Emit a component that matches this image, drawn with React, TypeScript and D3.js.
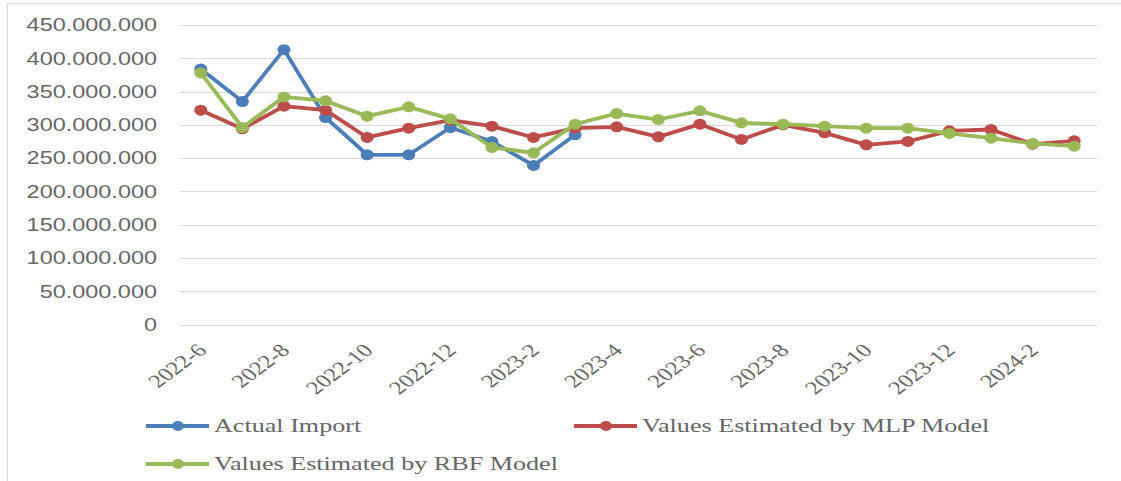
import React, { useEffect, useRef } from 'react';
import * as d3 from 'd3';

// months on the category axis
const months = [
  '2022-6', '2022-7', '2022-8', '2022-9', '2022-10', '2022-11', '2022-12',
  '2023-1', '2023-2', '2023-3', '2023-4', '2023-5', '2023-6', '2023-7',
  '2023-8', '2023-9', '2023-10', '2023-11', '2023-12', '2024-1', '2024-2', '2024-3',
];
// values in millions
const actualImport = [384, 335, 413, 311, 255, 255, 296, 275, 239, 285];
const mlpValues = [322, 294, 328, 322, 281, 295, 307, 298, 281, 295, 297, 282, 301, 278, 300, 288, 270, 275, 291, 293, 271, 276];
const rbfValues = [378, 296, 342, 336, 313, 327, 309, 266, 258, 301, 317, 308, 321, 303, 301, 298, 295, 295, 287, 280, 272, 268];
const yTicks = [0, 50, 100, 150, 200, 250, 300, 350, 400, 450];
const seriesNames = ['Actual Import', 'Values Estimated by MLP Model', 'Values Estimated by RBF Model'];
const UNIT = 1e6;

export default function App() {
  const ref = useRef<SVGSVGElement>(null);
  /* SIZE */
  const WIDTH = 1121;
  const HEIGHT = 481;
  const SX = 1.34; // the picture is stretched sideways
  /* COLOR */
  const COLORS = ['#4a7ebb', '#be4b48', '#98b954'];
  const GRID = '#d9d9d9';
  const TEXT = '#656565';

  function draw() {
    const svg = d3.select(ref.current);
    svg.selectAll('*').remove();

    const x = d3.scaleBand<string>().domain(months).range([180, 1095]);
    const y = d3.scaleLinear().domain([0, 450 * UNIT]).range([324.5, 25]);
    const cx = (m: string) => (x(m) as number) + x.bandwidth() / 2;

    const fmt = d3.formatLocale({ decimal: ',', thousands: '.', grouping: [3], currency: ['', ''] }).format(',');

    // chart frame
    svg.append('rect')
      .attr('x', 7.5).attr('y', 3.5)
      .attr('width', WIDTH + 20).attr('height', HEIGHT + 20)
      .attr('fill', 'white').attr('stroke', GRID);

    // grid lines + y labels
    const gy = svg.append('g');
    gy.selectAll('line').data(yTicks).enter().append('line')
      .attr('x1', 180).attr('x2', 1097)
      .attr('y1', d => Math.round(y(d * UNIT)) + 0.5)
      .attr('y2', d => Math.round(y(d * UNIT)) + 0.5)
      .attr('stroke', GRID).attr('stroke-width', 1);
    gy.selectAll('text').data(yTicks).enter().append('text')
      .attr('transform', d => `translate(157,${y(d * UNIT)}) scale(${SX},1)`)
      .attr('dy', '0.36em')
      .attr('text-anchor', 'end')
      .attr('font-family', 'Liberation Sans, Arial, sans-serif')
      .attr('font-size', 17.5)
      .attr('fill', TEXT)
      .text(d => fmt(d * UNIT));

    // x labels, every second month
    svg.append('g').selectAll('text')
      .data(months.filter((_, i) => i % 2 === 0))
      .enter().append('text')
      .attr('transform', d => `translate(${cx(d) + 1},347) scale(${SX},1) rotate(-45)`)
      .attr('dy', '0.35em')
      .attr('text-anchor', 'end')
      .attr('font-family', 'Liberation Serif, Times New Roman, serif')
      .attr('font-size', 18.5)
      .attr('fill', TEXT)
      .text(d => d);

    // series
    const series = [actualImport, mlpValues, rbfValues];
    const line = d3.line<number>()
      .x((_, i) => cx(months[i]))
      .y(d => y(d * UNIT));

    series.forEach((vals, s) => {
      const g = svg.append('g');
      g.append('path')
        .attr('d', line(vals))
        .attr('fill', 'none')
        .attr('stroke', COLORS[s])
        .attr('stroke-width', 3.8)
        .attr('stroke-linejoin', 'round');
      g.selectAll('ellipse').data(vals).enter().append('ellipse')
        .attr('cx', (_, i) => cx(months[i]))
        .attr('cy', d => y(d * UNIT))
        .attr('rx', 6.5).attr('ry', 5.5)
        .attr('fill', COLORS[s]);
    });

    // legend
    const legendPos = [
      { x: 146, y: 426 },
      { x: 574, y: 426 },
      { x: 146, y: 464 },
    ];
    const lg = svg.append('g').selectAll('g').data(seriesNames).enter().append('g')
      .attr('transform', (_, i) => `translate(${legendPos[i].x},${legendPos[i].y})`);
    lg.append('line')
      .attr('x1', 0).attr('x2', 63)
      .attr('stroke', (_, i) => COLORS[i])
      .attr('stroke-width', 3.8);
    lg.append('ellipse')
      .attr('cx', 32).attr('rx', 6).attr('ry', 5)
      .attr('fill', (_, i) => COLORS[i]);
    lg.append('text')
      .attr('transform', `translate(68,0) scale(${SX},1)`)
      .attr('dy', '0.33em')
      .attr('font-family', 'Liberation Serif, Times New Roman, serif')
      .attr('font-size', 19.5)
      .attr('fill', TEXT)
      .text(d => d);
  }

  useEffect(() => {
    draw();
  }, []);

  return (
    <svg ref={ref} width={WIDTH} height={HEIGHT}
      style={{ position: 'absolute', left: 0, top: 0, background: 'white' }} />
  );
}
